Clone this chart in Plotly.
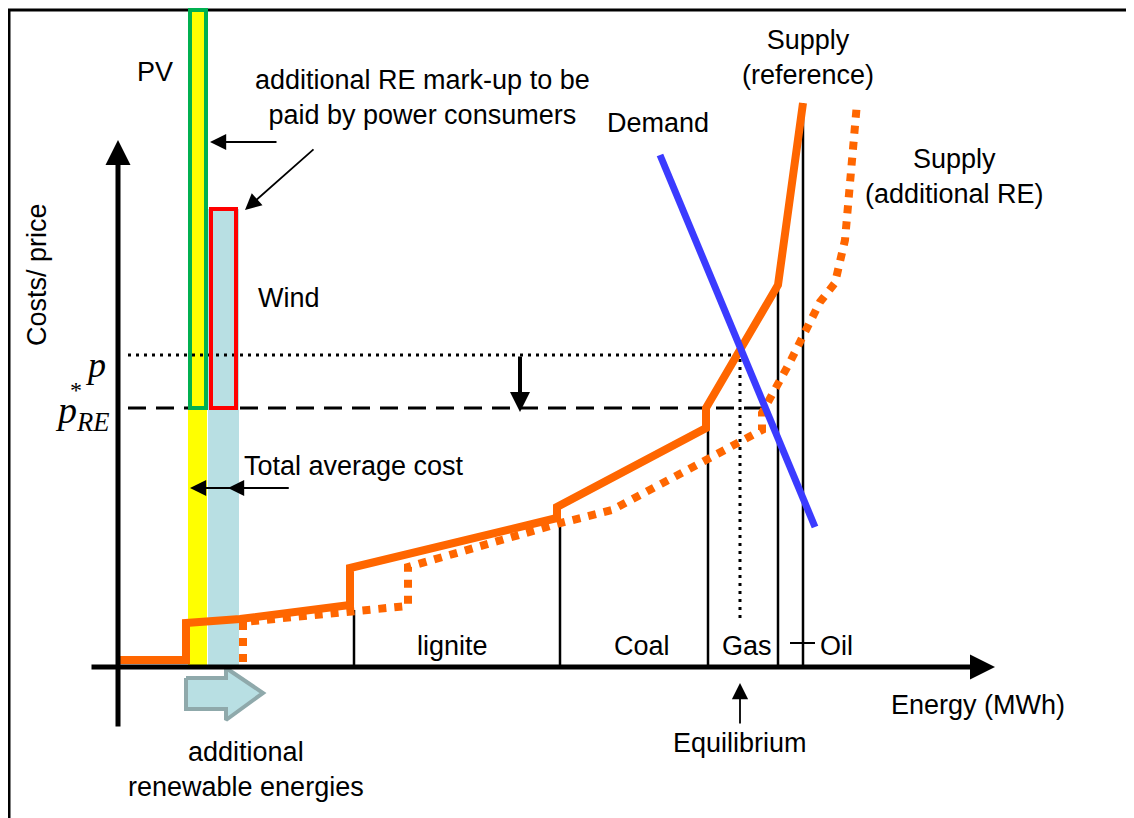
import plotly.graph_objects as go

# schematic units: origin where the two axes meet, y pointing up
supply_ref_x = [0, 68, 68, 122, 232, 232, 439, 439, 588, 588, 660, 685]
supply_ref_y = [7, 7, 44, 48, 62, 99, 149, 160, 239, 259, 382, 564]

supply_re_x = [125, 125, 290, 290, 439, 494, 588, 644, 644, 672, 702, 717, 727, 739]
supply_re_y = [5, 45, 61, 100, 143, 157, 207, 237, 254, 305, 365, 384, 427, 564]

demand_x = [542, 697]
demand_y = [512, 140]

# renewable bars: centre, width, height
re_names = ["PV", "Wind"]
re_centre = [79.5, 105.5]
re_width = [19, 31]
re_height = [657, 458]
re_colors = ["#ffff00", "#b8dfe3"]

# mark-up boxes (x0, x1) from p_RE up to the bar top
markup_x0 = [72, 93]
markup_x1 = [88, 118]
markup_top = [657, 458]
markup_colors = ["#00b050", "#ff0000"]

p_price = 312
p_re_price = 259
equilibrium_x = 622

# plant boundaries on the merit order (x, top)
block_x = [236, 442, 590, 660, 685]
block_top = [57, 147, 237, 382, 564]

tech_labels = ["lignite", "Coal", "Gas", "Oil"]
tech_x = [334, 524, 629, 718]

FONT = "Liberation Sans"
SERIF = "Liberation Serif"
ORANGE = "#ff6600"

fig = go.Figure()

# frame
fig.add_trace(go.Scatter(x=[1016, -109, -109], y=[657, 657, -151], mode="lines",
                         line=dict(color="black", width=3), hoverinfo="skip"))

# bars
fig.add_trace(go.Bar(x=re_centre, y=re_height, width=re_width, base=0,
                     marker=dict(color=re_colors, line=dict(width=0)), hoverinfo="skip"))

# block arrow for additional renewables
fig.add_trace(go.Scatter(x=[68, 108, 108, 145, 108, 108, 68, 68],
                         y=[-11, -11, -1, -26, -53, -42, -42, -11],
                         mode="lines", fill="toself", fillcolor="#b8dfe3",
                         line=dict(color="#8fa9ab", width=4), hoverinfo="skip"))

# price lines
fig.add_trace(go.Scatter(x=[10, equilibrium_x, equilibrium_x], y=[p_price, p_price, 47],
                         mode="lines", line=dict(color="black", width=3, dash="3px,5px"),
                         hoverinfo="skip"))
fig.add_trace(go.Scatter(x=[10, 647], y=[p_re_price, p_re_price], mode="lines",
                         line=dict(color="black", width=3, dash="18px,10px"), hoverinfo="skip"))

# plant boundaries
for bx, bt in zip(block_x, block_top):
    fig.add_trace(go.Scatter(x=[bx, bx], y=[0, bt], mode="lines",
                             line=dict(color="black", width=2.5), hoverinfo="skip"))
fig.add_trace(go.Scatter(x=[672, 697], y=[24, 24], mode="lines",
                         line=dict(color="black", width=2), hoverinfo="skip"))

# supply curves and demand
fig.add_trace(go.Scatter(x=supply_re_x, y=supply_re_y, mode="lines",
                         line=dict(color=ORANGE, width=8, dash="dot"), hoverinfo="skip"))
fig.add_trace(go.Scatter(x=supply_ref_x, y=supply_ref_y, mode="lines",
                         line=dict(color=ORANGE, width=8), hoverinfo="skip"))
fig.add_trace(go.Scatter(x=demand_x, y=demand_y, mode="lines",
                         line=dict(color="#3b3bff", width=7), hoverinfo="skip"))

# mark-up boxes
for x0, x1, top, col in zip(markup_x0, markup_x1, markup_top, markup_colors):
    fig.add_shape(type="rect", x0=x0, x1=x1, y0=p_re_price, y1=top,
                  line=dict(color=col, width=4), fillcolor="rgba(0,0,0,0)")


def arrow(x, y, ax, ay, width=1.8, size=1.8):
    fig.add_annotation(x=x, y=y, ax=ax, ay=ay, xref="x", yref="y", axref="x", ayref="y",
                       text="", showarrow=True, arrowhead=2, arrowsize=size,
                       arrowwidth=width, arrowcolor="black")


# axes
arrow(877, 0, -28, 0, width=5, size=1.0)
arrow(0, 527, 0, -61, width=5, size=1.0)
arrow(402, p_re_price - 4, 402, p_price, width=4, size=1.0)
# pointers
arrow(92, 525, 160, 525)
arrow(127, 457, 197, 519)
arrow(72, 179, 172, 179)
arrow(110, 179, 172, 179)
arrow(equilibrium_x, -16, equilibrium_x, -58)


def label(x, y, text, size=27, family=FONT, **kw):
    fig.add_annotation(x=x, y=y, xref="x", yref="y", text=text, showarrow=False,
                       font=dict(family=family, size=size, color="black"), **kw)


label(37, 595, "PV")
label(304, 570, "additional RE mark-up to be<br>paid by power consumers")
label(171, 369, "Wind")
label(236, 201, "Total average cost")
for t, tx in zip(tech_labels, tech_x):
    label(tx, 21, t)
label(540, 544, "Demand")
label(690, 610, "Supply<br>(reference)")
label(836, 491, "Supply<br>(additional RE)")
label(860, -38, "Energy (MWh)")
label(622, -76, "Equilibrium")
label(128, -102, "additional<br>renewable energies")
label(-81, 392, "Costs/ price", textangle=-90)

label(-23, 302, "<i>p</i>", size=36, family=SERIF)
label(-42, 277, "*", size=24, family=SERIF)
label(-36, 254, "<i>p<sub>RE</sub></i>", size=38, family=SERIF)

fig.update_layout(
    width=1126, height=810,
    margin=dict(l=0, r=0, t=0, b=0),
    paper_bgcolor="white", plot_bgcolor="white",
    showlegend=False, bargap=0,
    xaxis=dict(range=[-110, 1016], visible=False, fixedrange=True),
    yaxis=dict(range=[-151, 659], visible=False, fixedrange=True),
)

fig.write_html("out.html")
